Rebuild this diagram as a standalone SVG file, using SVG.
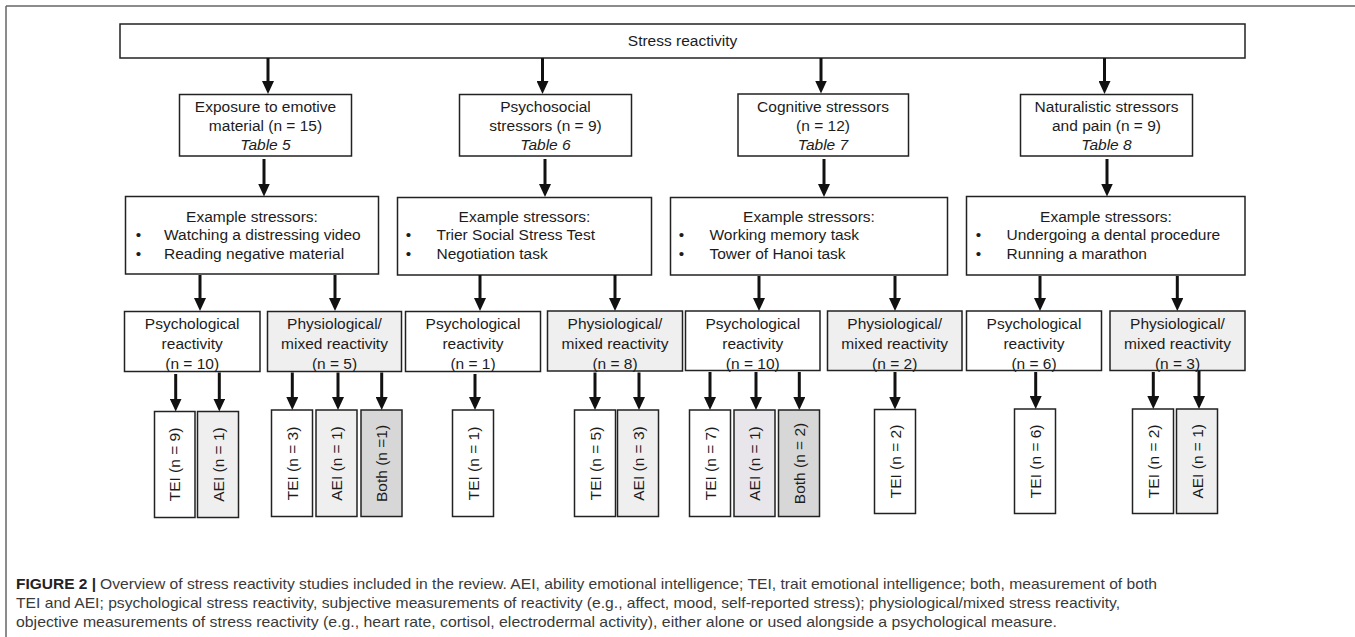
<svg xmlns="http://www.w3.org/2000/svg" width="1355" height="637" viewBox="0 0 1355 637">
<defs>
<marker id="ah" markerUnits="userSpaceOnUse" markerWidth="14" markerHeight="12" refX="0.5" refY="6" orient="auto">
<path d="M0,0 L13,6 L0,12 z" fill="#111"/>
</marker>
<style>
.b{fill:#fff;stroke:#222;stroke-width:1.5}
.g{fill:#efefef;stroke:#222;stroke-width:1.5}
.p{fill:#e9e6eb;stroke:#222;stroke-width:1.5}
.d{fill:#d7d7d7;stroke:#222;stroke-width:1.5}
text{font-family:"Liberation Sans",Arial,sans-serif;fill:#1c1c1c}
.t{font-size:15.5px;text-anchor:middle}
.l{font-size:15.5px}
.v{font-size:15.5px;text-anchor:middle}
.i{font-style:italic}
.c{font-size:14.5px;fill:#3a3a3a}
.cb{font-size:14.5px;font-weight:bold;fill:#222}
.cn line{stroke:#111;stroke-width:3;marker-end:url(#ah)}
</style>
</defs>
<rect width="1355" height="637" fill="#fff"/>
<g id="frame" stroke="#666" stroke-width="1.5" fill="none">
<line x1="6" y1="6" x2="1355" y2="6"/>
<line x1="6" y1="6" x2="6" y2="637"/>
</g>

<g id="root"><rect class="b" x="120" y="24" width="1125" height="34"/><text class="t" x="682.5" y="46">Stress reactivity</text></g>

<g id="cat1"><rect class="b" x="179.5" y="94.5" width="172" height="61.5"/><text class="t" x="265.5" y="112">Exposure to emotive</text><text class="t" x="265.5" y="131">material (n = 15)</text><text class="t i" x="265.5" y="150">Table 5</text></g>
<g id="cat2"><rect class="b" x="459.5" y="94.5" width="172" height="61.5"/><text class="t" x="545.5" y="112">Psychosocial</text><text class="t" x="545.5" y="131">stressors (n = 9)</text><text class="t i" x="545.5" y="150">Table 6</text></g>
<g id="cat3"><rect class="b" x="738" y="94" width="170.5" height="62"/><text class="t" x="823" y="112">Cognitive stressors</text><text class="t" x="823" y="131">(n = 12)</text><text class="t i" x="823" y="150">Table 7</text></g>
<g id="cat4"><rect class="b" x="1020.5" y="94.5" width="172" height="61.5"/><text class="t" x="1106.5" y="112">Naturalistic stressors</text><text class="t" x="1106.5" y="131">and pain (n = 9)</text><text class="t i" x="1106.5" y="150">Table 8</text></g>

<g id="ex1"><rect class="b" x="125.5" y="196.5" width="253" height="77.5"/><text class="t" x="252" y="222">Example stressors:</text><text class="t" x="138.5" y="240">•</text><text class="l" x="164" y="240">Watching a distressing video</text><text class="t" x="138.5" y="259">•</text><text class="l" x="164" y="259">Reading negative material</text></g>
<g id="ex2"><rect class="b" x="397.5" y="197.5" width="254" height="77.5"/><text class="t" x="524.5" y="222">Example stressors:</text><text class="t" x="408.5" y="240">•</text><text class="l" x="436.5" y="240">Trier Social Stress Test</text><text class="t" x="408.5" y="259">•</text><text class="l" x="436.5" y="259">Negotiation task</text></g>
<g id="ex3"><rect class="b" x="670.5" y="197.5" width="277" height="77.5"/><text class="t" x="809" y="222">Example stressors:</text><text class="t" x="681.5" y="240">•</text><text class="l" x="709.5" y="240">Working memory task</text><text class="t" x="681.5" y="259">•</text><text class="l" x="709.5" y="259">Tower of Hanoi task</text></g>
<g id="ex4"><rect class="b" x="966.5" y="196.5" width="278.5" height="78.5"/><text class="t" x="1106" y="222">Example stressors:</text><text class="t" x="978.5" y="240">•</text><text class="l" x="1006.5" y="240">Undergoing a dental procedure</text><text class="t" x="978.5" y="259">•</text><text class="l" x="1006.5" y="259">Running a marathon</text></g>

<g id="r1a"><rect class="b" x="124.5" y="311.5" width="135.5" height="60"/><text class="t" x="192.2" y="329">Psychological</text><text class="t" x="192.2" y="349">reactivity</text><text class="t" x="192.2" y="368.5">(n = 10)</text></g>
<g id="r1b"><rect class="g" x="267.5" y="311.5" width="134" height="60"/><text class="t" x="334.5" y="329">Physiological/</text><text class="t" x="334.5" y="349">mixed reactivity</text><text class="t" x="334.5" y="368.5">(n = 5)</text></g>
<g id="r2a"><rect class="b" x="405.5" y="311.5" width="135" height="60"/><text class="t" x="473" y="329">Psychological</text><text class="t" x="473" y="349">reactivity</text><text class="t" x="473" y="368.5">(n = 1)</text></g>
<g id="r2b"><rect class="g" x="547.5" y="311" width="135" height="60"/><text class="t" x="615" y="329">Physiological/</text><text class="t" x="615" y="349">mixed reactivity</text><text class="t" x="615" y="368.5">(n = 8)</text></g>
<g id="r3a"><rect class="b" x="685.5" y="311" width="134.5" height="59.5"/><text class="t" x="752.8" y="329">Psychological</text><text class="t" x="752.8" y="349">reactivity</text><text class="t" x="752.8" y="368.5">(n = 10)</text></g>
<g id="r3b"><rect class="g" x="827.5" y="311" width="134.5" height="59.5"/><text class="t" x="894.7" y="329">Physiological/</text><text class="t" x="894.7" y="349">mixed reactivity</text><text class="t" x="894.7" y="368.5">(n = 2)</text></g>
<g id="r4a"><rect class="b" x="966.5" y="311" width="135" height="59.5"/><text class="t" x="1034" y="329">Psychological</text><text class="t" x="1034" y="349">reactivity</text><text class="t" x="1034" y="368.5">(n = 6)</text></g>
<g id="r4b"><rect class="g" x="1110" y="311" width="135" height="59.5"/><text class="t" x="1177.5" y="329">Physiological/</text><text class="t" x="1177.5" y="349">mixed reactivity</text><text class="t" x="1177.5" y="368.5">(n = 3)</text></g>

<g id="m1"><rect class="b" x="154.5" y="411.5" width="40.5" height="106"/><text class="v" transform="translate(174.75,464.5) rotate(-90)" y="5.5">TEI (n = 9)</text></g>
<g id="m2"><rect class="g" x="197.5" y="411.5" width="41" height="106"/><text class="v" transform="translate(218,464.5) rotate(-90)" y="5.5">AEI (n = 1)</text></g>
<g id="m3"><rect class="b" x="271.5" y="410" width="41" height="106.5"/><text class="v" transform="translate(292,463.5) rotate(-90)" y="5.5">TEI (n = 3)</text></g>
<g id="m4"><rect class="g" x="316" y="410" width="41" height="106.5"/><text class="v" transform="translate(336.5,463.5) rotate(-90)" y="5.5">AEI (n = 1)</text></g>
<g id="m5"><rect class="d" x="361" y="410" width="41" height="106.5"/><text class="v" transform="translate(381.5,463.5) rotate(-90)" y="5.5">Both (n =1)</text></g>
<g id="m6"><rect class="b" x="452.5" y="410" width="41" height="106.5"/><text class="v" transform="translate(473,463.5) rotate(-90)" y="5.5">TEI (n = 1)</text></g>
<g id="m7"><rect class="b" x="574.5" y="410" width="41" height="106.5"/><text class="v" transform="translate(595,463.5) rotate(-90)" y="5.5">TEI (n = 5)</text></g>
<g id="m8"><rect class="g" x="617.5" y="410" width="41" height="106.5"/><text class="v" transform="translate(638,463.5) rotate(-90)" y="5.5">AEI (n = 3)</text></g>
<g id="m9"><rect class="b" x="689.5" y="410" width="41" height="106.5"/><text class="v" transform="translate(710,463.5) rotate(-90)" y="5.5">TEI (n = 7)</text></g>
<g id="m10"><rect class="p" x="734" y="410" width="41" height="106.5"/><text class="v" transform="translate(754.5,463.5) rotate(-90)" y="5.5">AEI (n = 1)</text></g>
<g id="m11"><rect class="d" x="778.5" y="410" width="41" height="106.5"/><text class="v" transform="translate(799,463.5) rotate(-90)" y="5.5">Both (n = 2)</text></g>
<g id="m12"><rect class="b" x="874.5" y="409.5" width="41" height="104"/><text class="v" transform="translate(895,461.5) rotate(-90)" y="5.5">TEI (n = 2)</text></g>
<g id="m13"><rect class="b" x="1014.5" y="409" width="41" height="104.5"/><text class="v" transform="translate(1035,461.3) rotate(-90)" y="5.5">TEI (n = 6)</text></g>
<g id="m14"><rect class="b" x="1132.5" y="409" width="41" height="104.5"/><text class="v" transform="translate(1153,461.3) rotate(-90)" y="5.5">TEI (n = 2)</text></g>
<g id="m15"><rect class="g" x="1176.5" y="409" width="41" height="104.5"/><text class="v" transform="translate(1197,461.3) rotate(-90)" y="5.5">AEI (n = 1)</text></g>

<g id="connectors" class="cn">
<line x1="268" y1="58" x2="268" y2="81.5"/>
<line x1="542.5" y1="58" x2="542.5" y2="81.5"/>
<line x1="821" y1="58" x2="821" y2="81"/>
<line x1="1104.5" y1="58" x2="1104.5" y2="81.5"/>
<line x1="264" y1="159" x2="264" y2="184"/>
<line x1="545" y1="159" x2="545" y2="184.5"/>
<line x1="824" y1="159" x2="824" y2="184.5"/>
<line x1="1107" y1="159" x2="1107" y2="184"/>
<line x1="200" y1="275" x2="200" y2="298.5"/>
<line x1="335" y1="275" x2="335" y2="298.5"/>
<line x1="480" y1="275" x2="480" y2="298.5"/>
<line x1="615" y1="275" x2="615" y2="298.5"/>
<line x1="759" y1="276" x2="759" y2="298.5"/>
<line x1="895" y1="276" x2="895" y2="298.5"/>
<line x1="1040" y1="276" x2="1040" y2="298.5"/>
<line x1="1177.3" y1="276" x2="1177.3" y2="298.5"/>
<line x1="175.7" y1="374" x2="175.7" y2="399"/>
<line x1="219.3" y1="372.5" x2="219.3" y2="399"/>
<line x1="292.3" y1="372.5" x2="292.3" y2="397.5"/>
<line x1="338" y1="372.5" x2="338" y2="397.5"/>
<line x1="381.7" y1="372.5" x2="381.7" y2="397.5"/>
<line x1="475" y1="374" x2="475" y2="397.5"/>
<line x1="595" y1="372.5" x2="595" y2="397.5"/>
<line x1="639" y1="372.5" x2="639" y2="397.5"/>
<line x1="710" y1="372" x2="710" y2="397.5"/>
<line x1="756" y1="372" x2="756" y2="397.5"/>
<line x1="799.3" y1="372" x2="799.3" y2="397.5"/>
<line x1="895" y1="372" x2="895" y2="397"/>
<line x1="1035.7" y1="372" x2="1035.7" y2="396.5"/>
<line x1="1153.3" y1="372" x2="1153.3" y2="396.5"/>
<line x1="1199" y1="371" x2="1199" y2="396.5"/>
</g>

<g id="caption">
<text class="cb" x="16" y="588.5" textLength="80" lengthAdjust="spacingAndGlyphs">FIGURE 2 |</text>
<text class="c" x="100" y="588.5" textLength="1057" lengthAdjust="spacingAndGlyphs">Overview of stress reactivity studies included in the review. AEI, ability emotional intelligence; TEI, trait emotional intelligence; both, measurement of both</text>
<text class="c" x="16" y="607.5" textLength="1104" lengthAdjust="spacingAndGlyphs">TEI and AEI; psychological stress reactivity, subjective measurements of reactivity (e.g., affect, mood, self-reported stress); physiological/mixed stress reactivity,</text>
<text class="c" x="16" y="626.5" textLength="1041" lengthAdjust="spacingAndGlyphs">objective measurements of stress reactivity (e.g., heart rate, cortisol, electrodermal activity), either alone or used alongside a psychological measure.</text>
</g>
</svg>
